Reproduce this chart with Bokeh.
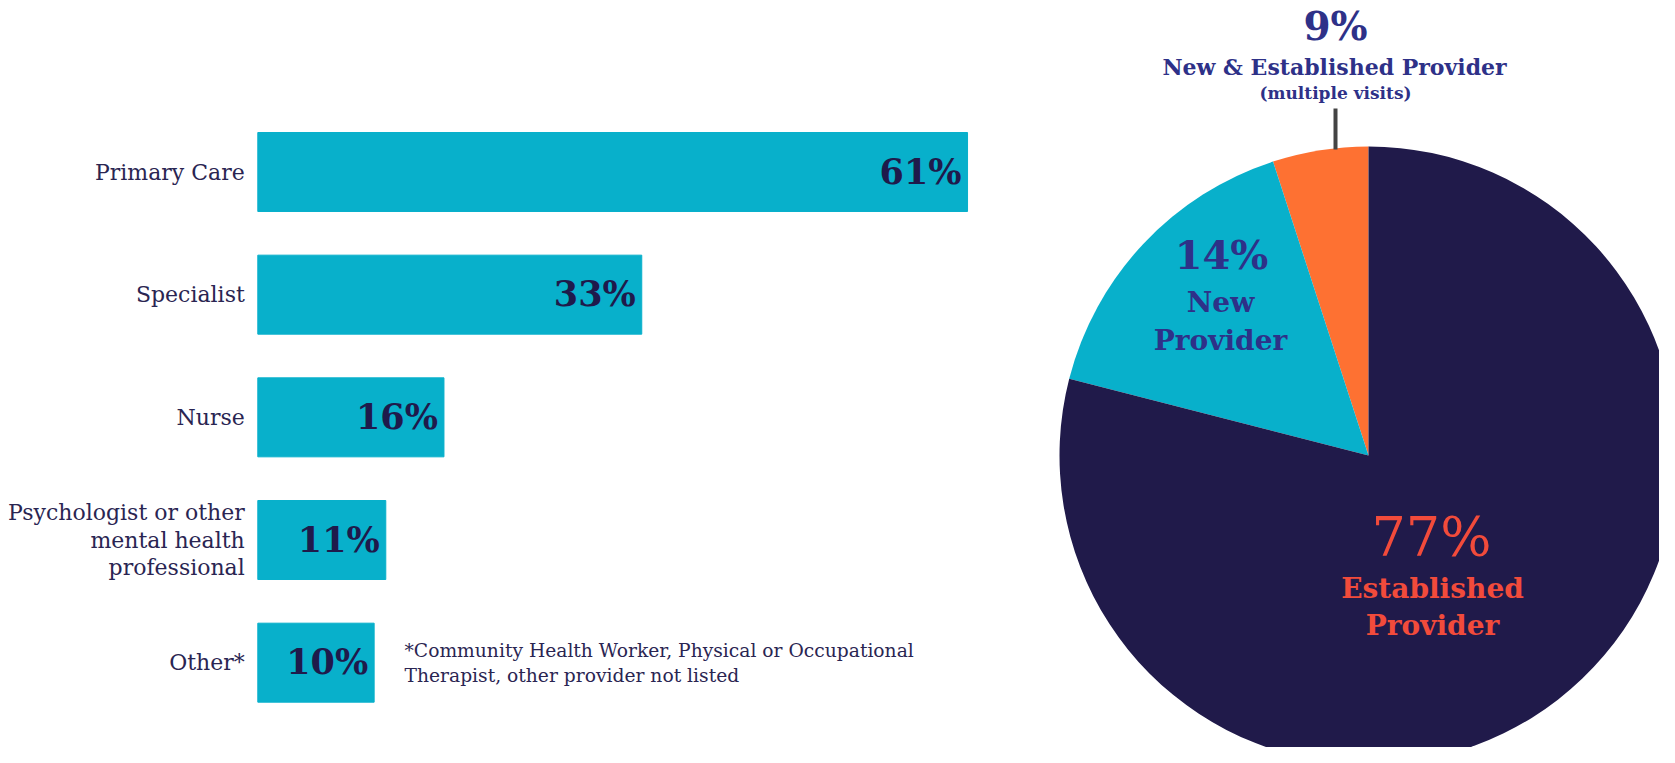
from bokeh.plotting import figure
from bokeh.models import Range1d
from bokeh.layouts import row
from bokeh.core.properties import value
from bokeh.embed import file_html
from bokeh.resources import INLINE
import math

# ---- data ----
categories = ["Primary Care", "Specialist", "Nurse",
              "Psychologist or other\nmental health\nprofessional", "Other*"]
shares = [61, 33, 16, 11, 10]
share_labels = ["61%", "33%", "16%", "11%", "10%"]
footnote = "*Community Health Worker, Physical or Occupational\nTherapist, other provider not listed"

pie_names = ["New & Established Provider", "New Provider", "Established Provider"]
pie_labels = ["9%", "14%", "77%"]
pie_drawn_shares = [5, 16, 79]   # slice sizes as drawn in the picture
pie_colors = ["#FE7132", "#08B0CB", "#201A4A"]

CYAN = "#08B0CB"
NAVY_TXT = "#1F1A4B"
CAT_TXT = "#2A2552"
INDIGO = "#2E3188"
RED = "#F24B3B"

# ---- bar chart ----
px_per_unit = 11.635
bw = 1040
H = 747
x0 = -257.3 / px_per_unit
row_px = 122.67
y_top = 4 + 171.5 / row_px
y_bot = y_top - H / row_px
ypos = [len(categories) - 1 - i for i in range(len(categories))]

p1 = figure(width=bw, height=H, output_backend="svg", toolbar_location=None,
            x_range=Range1d(x0, x0 + bw / px_per_unit),
            y_range=Range1d(y_bot, y_top), min_border=0)
p1.axis.visible = False
p1.grid.visible = False
p1.outline_line_color = None

p1.hbar(y=ypos, left=0, right=shares, height=0.644, color=CYAN)
p1.text(x=[-1.12] * len(categories), y=ypos, text=categories,
        text_align="right", text_baseline="middle", text_font=value("DejaVu Serif"),
        text_font_size="22px", text_color=CAT_TXT, text_line_height=1.1)
p1.text(x=shares, y=ypos, text=share_labels, x_offset=-6, y_offset=-1,
        text_align="right", text_baseline="middle", text_font=value("DejaVu Serif"),
        text_font_style="bold", text_font_size="35px", text_color=NAVY_TXT)
p1.text(x=[(404 - 257.3) / px_per_unit], y=[ypos[-1]], text=[footnote], text_align="left",
        text_baseline="middle", text_font=value("DejaVu Serif"), text_font_size="18.7px",
        text_color=CAT_TXT, text_line_height=1.18)

# ---- pie ----
pw = 619
p2 = figure(width=pw, height=H, output_backend="svg", toolbar_location=None,
            x_range=Range1d(0, pw), y_range=Range1d(0, H), min_border=0)
p2.axis.visible = False
p2.grid.visible = False
p2.outline_line_color = None

cx, cy, r = 328, 292, 309
starts, ends = [], []
a = math.pi / 2
for s in pie_drawn_shares:
    starts.append(a)
    a += s / 100 * 2 * math.pi
    ends.append(a)
p2.wedge(x=cx, y=cy, radius=r, start_angle=starts, end_angle=ends,
         fill_color=pie_colors, line_color=None)

p2.segment(x0=[295], y0=[639], x1=[295], y1=[598], line_color="#444444", line_width=4)

def t(x, y, s, size, color, bold=True):
    p2.text(x=[x], y=[y], text=[s], text_align="center", text_baseline="middle",
            text_font=value("DejaVu Serif"), text_font_style="bold" if bold else "normal",
            text_font_size=size, text_color=color)

t(295, 722, pie_labels[0], "39px", INDIGO)
t(294, 681, pie_names[0], "22px", INDIGO)
t(295, 655, "(multiple visits)", "17px", INDIGO)
t(181, 493, pie_labels[1], "40px", INDIGO)
t(180, 445, "New", "28px", INDIGO)
t(180, 407, "Provider", "28px", INDIGO)
t(391, 210, pie_labels[2], "54px", RED, bold=False)
t(392, 159, "Established", "28px", RED)
t(392, 122, "Provider", "28px", RED)

layout = row(p1, p2, spacing=0)
open("out.html", "w").write(file_html(layout, INLINE))
